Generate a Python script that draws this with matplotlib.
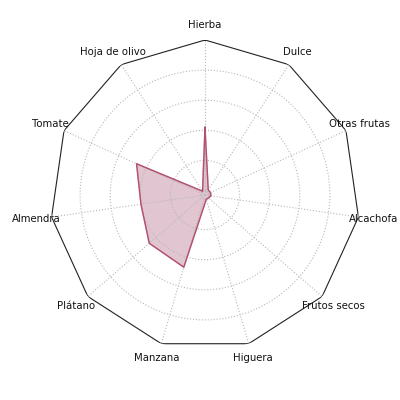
import numpy as np
import matplotlib
matplotlib.use('Agg')
import matplotlib.pyplot as plt

# categories, clockwise from the top
labels = ['Hierba', 'Dulce', 'Otras frutas', 'Alcachofa', 'Frutos secos',
          'Higuera', 'Manzana', 'Plátano', 'Almendra', 'Tomate', 'Hoja de olivo']
values = [0.42, 0.01, 0.01, 0.01, 0.0, 0.0, 0.47, 0.46, 0.40, 0.47, 0.0]
ring_ticks = [0, 0.2, 0.4, 0.6, 0.8]

N = len(labels)
theta = np.linspace(0, 2 * np.pi, N, endpoint=False)

fig = plt.figure(figsize=(4, 4), dpi=100)
ax = fig.add_axes([0.125, 0.125, 0.775, 0.775], projection='polar')
ax.set_theta_zero_location('N')
ax.set_theta_direction(-1)
ax.set_ylim(-0.03, 1.0)

ax.spines['polar'].set_visible(False)
ax.set_xticks(theta)
ax.set_xticklabels([])
ax.set_yticks(ring_ticks)
ax.set_yticklabels([])
ax.grid(True, color='#b8b8b8', linestyle=':', linewidth=0.8)

# polygon frame
th_c = np.append(theta, theta[0])
ax.plot(th_c, [1.0] * (N + 1), color='#222222', linewidth=0.8)

# data
v_c = values + values[:1]
ax.plot(th_c, v_c, color='#b4506e', linewidth=1.0)
ax.fill(th_c, v_c, color='#8b1a4a', alpha=0.25)

for t, lab in zip(theta, labels):
    ax.text(t, 1.10, lab, ha='center', va='center', fontsize=7.3,
            color='#111111', clip_on=False)

plt.savefig('out.png', dpi=100)
